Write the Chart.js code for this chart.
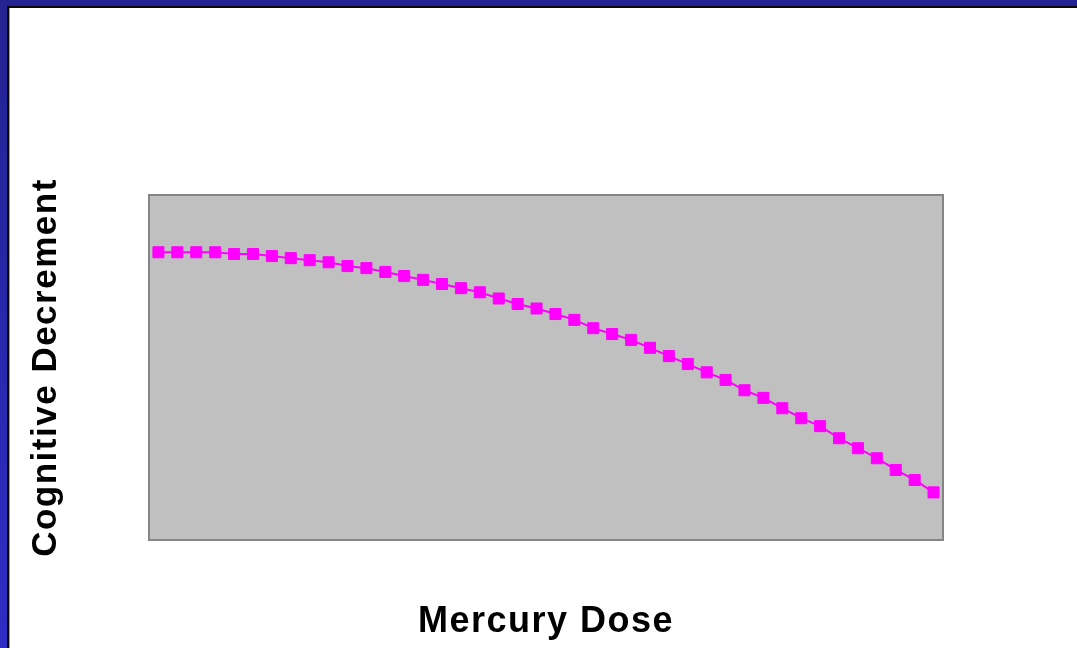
<!DOCTYPE html>
<html>
<head>
<meta charset="utf-8">
<script src="https://cdn.jsdelivr.net/npm/chart.js@4/dist/chart.umd.min.js"></script>
<style>
  html, body { margin: 0; padding: 0; background: #ffffff; overflow: hidden; }
  #wrap { position: relative; width: 1077px; height: 648px; }
  #c { position: absolute; left: 0; top: 0; }
  .f { position: absolute; z-index: 2; }
  #topBlue { left: 0; top: 0; width: 1077px; height: 6px; background: #232391; }
  #leftBlue { left: 0; top: 0; width: 7px; height: 648px; background: linear-gradient(#232391, #2d2dc6); }
  #topBlack { left: 7px; top: 6px; width: 1070px; height: 2px; background: #0a0a0a; }
  #leftBlack { left: 7px; top: 6px; width: 2px; height: 642px; background: #0a0a0a; }
  #leftGray { left: 9px; top: 8px; width: 1px; height: 640px; background: #9a9a9a; }
</style>
</head>
<body>
<div id="wrap">
  <canvas id="c" width="1077" height="648"></canvas>
  <div class="f" id="topBlue"></div>
  <div class="f" id="leftBlue"></div>
  <div class="f" id="topBlack"></div>
  <div class="f" id="leftBlack"></div>
  <div class="f" id="leftGray"></div>
</div>
<script>
// Data (arbitrary 0-100 vertical scale; axis has no ticks)
const doseLevels = Array.from({length: 42}, (_, i) => String(i + 1));
const cognitiveDecrement = [
  83.4, 83.4, 83.4, 83.4, 82.9, 82.9, 82.3, 81.7, 81.1, 80.5,
  79.4, 78.8, 77.7, 76.5, 75.4, 74.2, 73.0, 71.8, 70.0, 68.4,
  67.1, 65.5, 63.8, 61.4, 59.7, 58.0, 55.7, 53.3, 51.0, 48.6,
  46.4, 43.4, 41.2, 38.2, 35.3, 33.0, 29.5, 26.6, 23.7, 20.3,
  17.4, 13.8
];
const xTitle = 'Mercury Dose';
const yTitle = 'Cognitive Decrement';

const plotBackground = {
  id: 'plotBackground',
  beforeDraw(chart) {
    chart.ctx.letterSpacing = '1.5px';
  },
  beforeDatasetsDraw(chart) {
    const {ctx, chartArea: a} = chart;
    ctx.save();
    ctx.fillStyle = '#c0c0c0';
    ctx.fillRect(a.left, a.top, a.right - a.left, a.bottom - a.top);
    ctx.strokeStyle = '#858585';
    ctx.lineWidth = 2;
    ctx.strokeRect(a.left, a.top, a.right - a.left, a.bottom - a.top);
    ctx.restore();
  }
};

const fam = 'Arial, "Liberation Sans", Helvetica, sans-serif';

new Chart(document.getElementById('c'), {
  type: 'line',
  data: {
    labels: doseLevels,
    datasets: [{
      data: cognitiveDecrement,
      borderColor: '#ff00ff',
      backgroundColor: '#ff00ff',
      borderWidth: 2,
      pointStyle: 'rect',
      pointRadius: 7.8,
      pointBorderWidth: 1,
      pointBorderColor: '#ff00ff',
      pointBackgroundColor: '#ff00ff',
      tension: 0
    }]
  },
  options: {
    responsive: false,
    animation: false,
    devicePixelRatio: 1,
    layout: { padding: { top: 195, right: 134, left: 0, bottom: 0 } },
    plugins: { legend: { display: false }, tooltip: { enabled: false } },
    scales: {
      x: {
        offset: true,
        grid: { display: false },
        border: { display: false },
        ticks: { display: false },
        title: {
          display: true,
          text: xTitle,
          color: '#000000',
          font: { family: fam, size: 36, weight: 'bold' },
          padding: { top: 0, bottom: 4 }
        },
        afterFit(scale) { scale.height = 108; }
      },
      y: {
        min: 0,
        max: 100,
        grid: { display: false },
        border: { display: false },
        ticks: { display: false },
        title: {
          display: true,
          text: yTitle,
          color: '#000000',
          font: { family: fam, size: 35, weight: 'bold' },
          padding: { top: 25, bottom: 0 }
        },
        afterFit(scale) { scale.width = 149; }
      }
    }
  },
  plugins: [plotBackground]
});
</script>
</body>
</html>
